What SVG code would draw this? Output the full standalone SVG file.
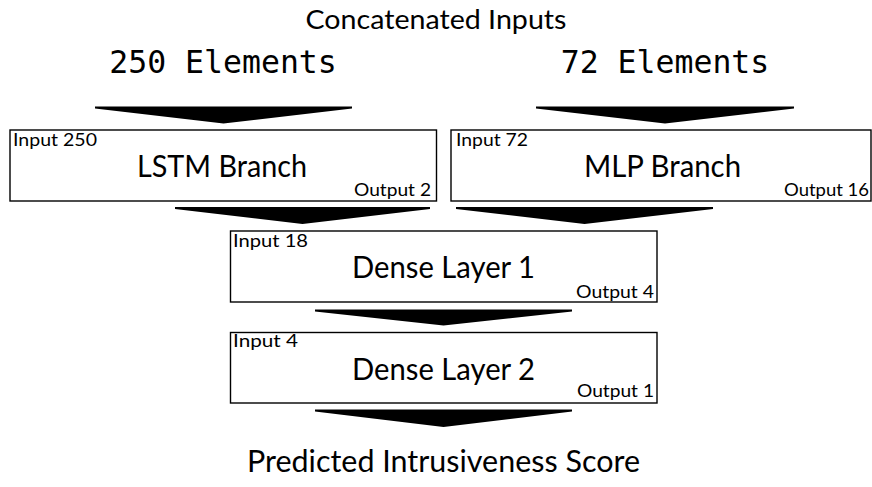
<svg xmlns="http://www.w3.org/2000/svg" width="872" height="487" viewBox="0 0 872 487">
<style>
.box{fill:#fff;stroke:#000;stroke-width:1.4}
.arrow{fill:#000;stroke:none}
.t{font-family:Lato,"Noto Sans","Liberation Sans",sans-serif;fill:#000}
.big{font-size:31px;text-anchor:middle}
.small{font-size:17px}
.end{text-anchor:end}
.mono{font-family:"DejaVu Sans Mono","Liberation Mono",monospace;font-size:31.5px;text-anchor:middle;fill:#000}
</style>
<rect width="872" height="487" fill="#fff"/>
<text class="t" x="436" y="29" font-size="27.5" text-anchor="middle" textLength="261" lengthAdjust="spacingAndGlyphs">Concatenated Inputs</text>
<text class="mono" x="223" y="73">250 Elements</text>
<text class="mono" x="665" y="73">72 Elements</text>
<g id="connectors">
<polygon class="arrow" points="95,106.5 352,106.5 352,108.5 223.5,123.5 95,108.5"/>
<polygon class="arrow" points="536,106.5 794,106.5 794,108.5 665,123.5 536,108.5"/>
<polygon class="arrow" points="175,207 430,207 430,209 302.5,224 175,209"/>
<polygon class="arrow" points="456,207 713,207 713,209 584.5,224 456,209"/>
<polygon class="arrow" points="315,309.5 572,309.5 572,311.5 443.5,325.5 315,311.5"/>
<polygon class="arrow" points="315,409.5 572,409.5 572,411.5 443.5,427 315,411.5"/>
</g>
<g id="lstm">
<rect class="box" x="10" y="130" width="426.5" height="71"/>
<text class="t small" x="13" y="146" textLength="84" lengthAdjust="spacingAndGlyphs">Input 250</text>
<text class="t big" x="222" y="177" textLength="170" lengthAdjust="spacingAndGlyphs">LSTM Branch</text>
<text class="t small end" x="431" y="196" textLength="77" lengthAdjust="spacingAndGlyphs">Output 2</text>
</g>
<g id="mlp">
<rect class="box" x="451" y="130" width="420" height="71"/>
<text class="t small" x="456" y="146" textLength="72" lengthAdjust="spacingAndGlyphs">Input 72</text>
<text class="t big" x="662.5" y="177" textLength="157" lengthAdjust="spacingAndGlyphs">MLP Branch</text>
<text class="t small end" x="869" y="196" textLength="85" lengthAdjust="spacingAndGlyphs">Output 16</text>
</g>
<g id="dense1">
<rect class="box" x="230.5" y="231" width="426.5" height="71"/>
<text class="t small" x="233" y="247" textLength="75" lengthAdjust="spacingAndGlyphs">Input 18</text>
<text class="t big" x="443.5" y="278" textLength="183" lengthAdjust="spacingAndGlyphs">Dense Layer 1</text>
<text class="t small end" x="654" y="298" textLength="78" lengthAdjust="spacingAndGlyphs">Output 4</text>
</g>
<g id="dense2">
<rect class="box" x="230.5" y="332.5" width="426.5" height="70.5"/>
<text class="t small" x="233" y="347" textLength="65" lengthAdjust="spacingAndGlyphs">Input 4</text>
<text class="t big" x="443.5" y="380" textLength="183" lengthAdjust="spacingAndGlyphs">Dense Layer 2</text>
<text class="t small end" x="654" y="397" textLength="77" lengthAdjust="spacingAndGlyphs">Output 1</text>
</g>
<text class="t big" x="443.5" y="472" textLength="393" lengthAdjust="spacingAndGlyphs">Predicted Intrusiveness Score</text>
</svg>
